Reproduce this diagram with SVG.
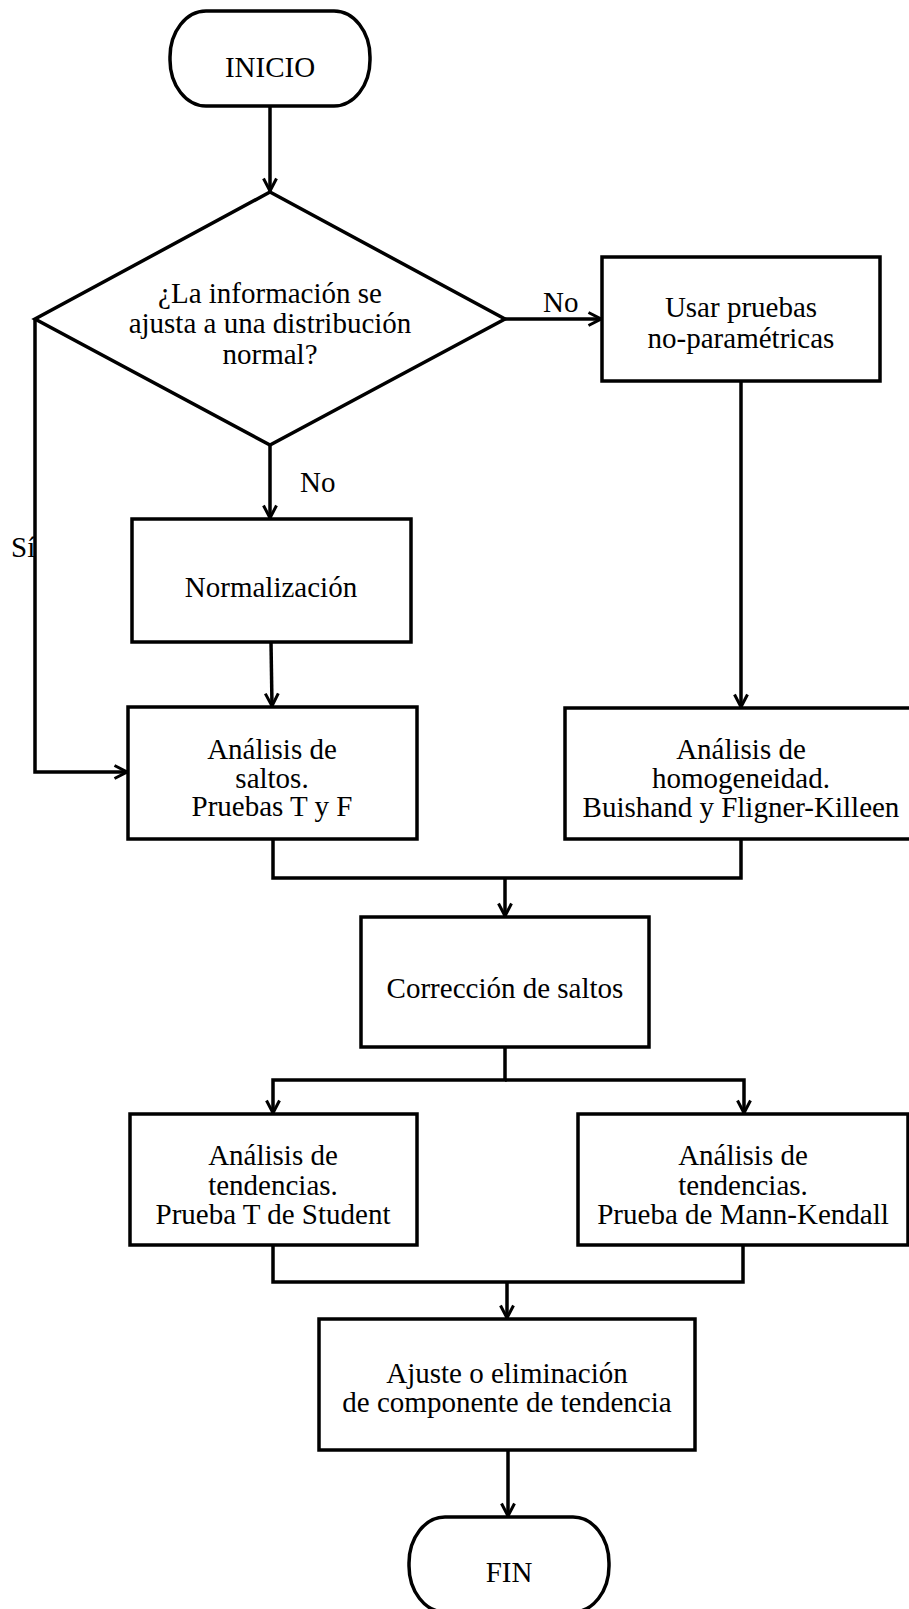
<svg xmlns="http://www.w3.org/2000/svg" width="909" height="1609" viewBox="0 0 909 1609">
<style>
.s{fill:#fff;stroke:#000;stroke-width:3.5}
.t{font-family:"Liberation Serif","Times New Roman",serif;font-size:29px;fill:#000;text-anchor:middle}
.l{font-family:"Liberation Serif","Times New Roman",serif;font-size:29px;fill:#000}
.c{fill:none;stroke:#000;stroke-width:3.5}
.a{marker-end:url(#arr)}
</style>
<defs>
<marker id="arr" markerUnits="userSpaceOnUse" viewBox="0 0 16 16" markerWidth="16" markerHeight="16" refX="14" refY="8" orient="auto">
<path d="M1.5,1.5 L14,8 L1.5,14.5" fill="none" stroke="#000" stroke-width="3"/>
</marker>
</defs>
<rect width="909" height="1609" fill="#fff"/>
<g id="connectors">
<path class="c a" d="M270,106 V191"/>
<path class="c a" d="M505,319 H601"/>
<path class="c a" d="M270,445 V518"/>
<path class="c a" d="M35,319 V772 H127"/>
<path class="c a" d="M271,642 L272,706"/>
<path class="c a" d="M741,381 V707"/>
<path class="c" d="M273,839 V878 H741 V839"/>
<path class="c a" d="M505,878 V916"/>
<path class="c a" d="M505,1047 V1080 H273 V1113"/>
<path class="c a" d="M505,1080 H744 V1113"/>
<path class="c" d="M273,1245 V1282 H743 V1245"/>
<path class="c a" d="M507,1282 V1318"/>
<path class="c a" d="M508,1450 V1516"/>
</g>
<g id="labels">
<text class="l" x="543" y="312">No</text>
<text class="l" x="300" y="492">No</text>
<text class="l" x="11" y="557">Sí</text>
</g>
<g id="inicio">
<rect class="s" x="170" y="11" width="200" height="95" rx="36" ry="46"/>
<text class="t" x="270" y="77">INICIO</text>
</g>
<g id="decision">
<polygon class="s" points="270,192 505,319 270,445 35,319"/>
<text class="t" x="270" y="303">¿La información se</text>
<text class="t" x="270" y="333">ajusta a una distribución</text>
<text class="t" x="270" y="364">normal?</text>
</g>
<g id="usar">
<rect class="s" x="602" y="257" width="278" height="124"/>
<text class="t" x="741" y="317">Usar pruebas</text>
<text class="t" x="741" y="348">no-paramétricas</text>
</g>
<g id="normalizacion">
<rect class="s" x="132" y="519" width="279" height="123"/>
<text class="t" x="271" y="597">Normalización</text>
</g>
<g id="saltos">
<rect class="s" x="128" y="707" width="289" height="132"/>
<text class="t" x="272" y="759">Análisis de</text>
<text class="t" x="272" y="788">saltos.</text>
<text class="t" x="272" y="816">Pruebas T y F</text>
</g>
<g id="homogeneidad">
<rect class="s" x="565" y="708" width="370" height="131"/>
<text class="t" x="741" y="759">Análisis de</text>
<text class="t" x="741" y="788">homogeneidad.</text>
<text class="t" x="741" y="817">Buishand y Fligner-Killeen</text>
</g>
<g id="correccion">
<rect class="s" x="361" y="917" width="288" height="130"/>
<text class="t" x="505" y="998">Corrección de saltos</text>
</g>
<g id="tendT">
<rect class="s" x="130" y="1114" width="287" height="131"/>
<text class="t" x="273" y="1165">Análisis de</text>
<text class="t" x="273" y="1195">tendencias.</text>
<text class="t" x="273" y="1224">Prueba T de Student</text>
</g>
<g id="tendMK">
<rect class="s" x="578" y="1114" width="330" height="131"/>
<text class="t" x="743" y="1165">Análisis de</text>
<text class="t" x="743" y="1195">tendencias.</text>
<text class="t" x="743" y="1224">Prueba de Mann-Kendall</text>
</g>
<g id="ajuste">
<rect class="s" x="319" y="1319" width="376" height="131"/>
<text class="t" x="507" y="1383">Ajuste o eliminación</text>
<text class="t" x="507" y="1412">de componente de tendencia</text>
</g>
<g id="fin">
<rect class="s" x="409" y="1517" width="200" height="95" rx="36" ry="46"/>
<text class="t" x="509" y="1582">FIN</text>
</g>
</svg>
